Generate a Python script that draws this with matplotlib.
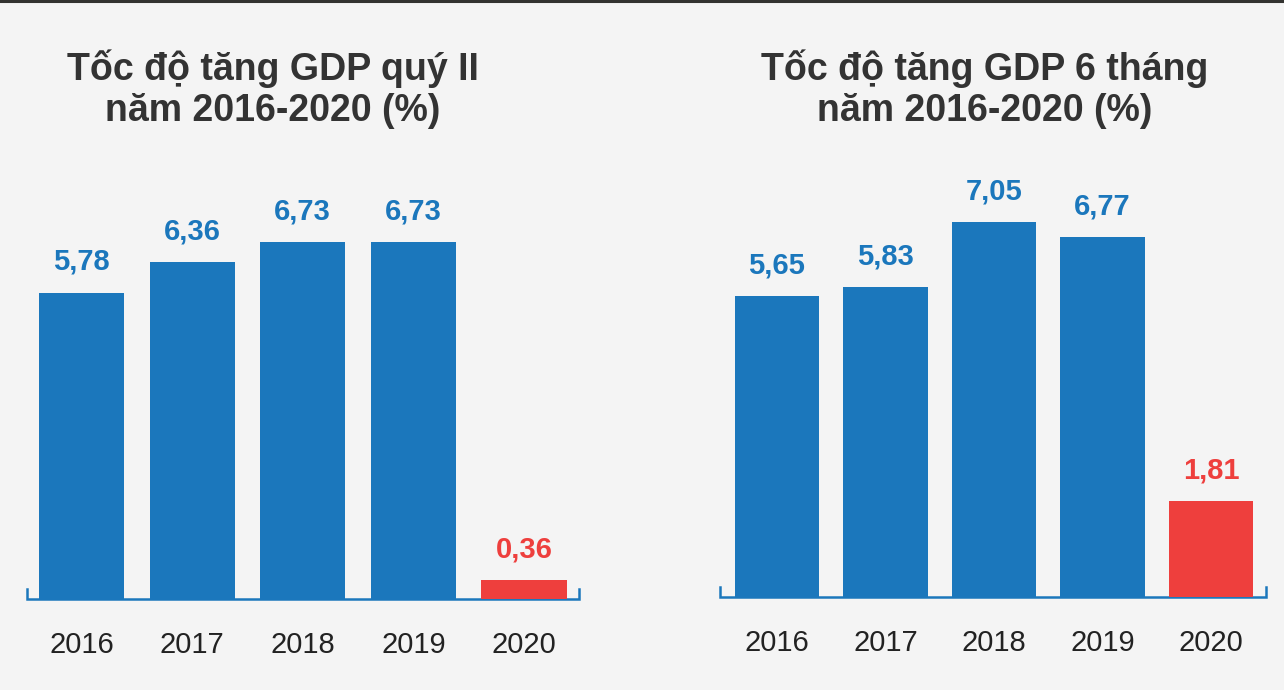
import matplotlib.pyplot as plt

# Data
years = ["2016", "2017", "2018", "2019", "2020"]
gdp_q2 = [5.78, 6.36, 6.73, 6.73, 0.36]
gdp_6m = [5.65, 5.83, 7.05, 6.77, 1.81]
title_q2 = ["Tốc độ tăng GDP quý II", "năm 2016-2020 (%)"]
title_6m = ["Tốc độ tăng GDP 6 tháng", "năm 2016-2020 (%)"]

BLUE = "#1b77bc"
RED = "#ee3f3d"
BG = "#f4f4f4"

plt.rcParams['font.family'] = ['Liberation Sans', 'DejaVu Sans']

W, H = 1284, 690
fig = plt.figure(figsize=(W / 100, H / 100), dpi=100, facecolor=BG)


def px_axes(x0, base, width, height):
    """Axes placed by pixel coordinates (base = baseline y from top)."""
    return fig.add_axes([x0 / W, (H - base) / H, width / W, height / H])


def draw_panel(ax, values, xlim, px_per_unit, height_px, bar_w):
    ax.set_facecolor("none")
    ax.set_xlim(*xlim)
    ax.set_ylim(0, height_px / px_per_unit)
    colors = [BLUE] * (len(values) - 1) + [RED]
    x = range(len(values))
    bars = ax.bar(x, values, width=bar_w, color=colors, zorder=3)
    for b, v, c in zip(bars, values, colors):
        ax.annotate(f"{v:.2f}".replace(".", ","),
                    (b.get_x() + b.get_width() / 2, v),
                    xytext=(0, 12), textcoords="offset points",
                    ha="center", va="bottom", fontsize=21,
                    fontweight="bold", color=c)
    # baseline with small end ticks
    tick = 10 / height_px
    ax.plot([0, 0, 1, 1], [tick, 0, 0, tick], transform=ax.transAxes,
            color=BLUE, lw=1.8, clip_on=False, zorder=2,
            solid_joinstyle="miter")
    ax.set_xticks(list(x))
    ax.set_xticklabels(years, fontsize=21, color="#222222")
    ax.tick_params(axis="x", length=0, pad=23)
    ax.set_yticks([])
    for s in ax.spines.values():
        s.set_visible(False)


ax1 = px_axes(27, 599, 552, 450)
draw_panel(ax1, gdp_q2, (-0.493, 4.498), 53.0, 450, 0.77)

ax2 = px_axes(720, 597, 546, 450)
draw_panel(ax2, gdp_6m, (-0.525, 4.507), 53.2, 450, 0.775)

# titles
for cx, lines in ((273, title_q2), (985, title_6m)):
    for line, cy in zip(lines, (69, 111)):
        fig.text(cx / W, 1 - cy / H, line, ha="center", va="center",
                 fontsize=27, fontweight="bold", color="#333333")

# dark strip on top
fig.add_artist(plt.Line2D([0, 1], [1 - 1 / H, 1 - 1 / H],
                          transform=fig.transFigure, color="#333330", lw=2.2))

fig.savefig("out.png", dpi=100, facecolor=BG)
